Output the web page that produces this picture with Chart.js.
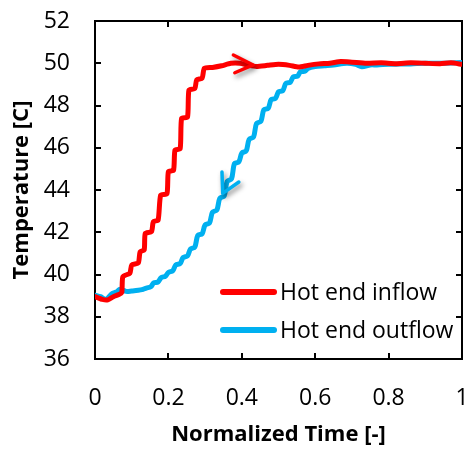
<!DOCTYPE html>
<html>
<head>
<meta charset="utf-8">
<script src="https://cdn.jsdelivr.net/npm/chart.js@4"></script>
<style>
  html, body { margin: 0; padding: 0; background: #fff; }
  #wrap { width: 470px; height: 450px; }
</style>
</head>
<body>
<div id="wrap"><canvas id="chart"></canvas></div>
<script>
// ── Data ────────────────────────────────────────────────────────────────────
const xTickLabels = ['0', '0.2', '0.4', '0.6', '0.8', '1'];
const yTickLabels = ['36', '38', '40', '42', '44', '46', '48', '50', '52'];
const seriesNames = ['Hot end inflow', 'Hot end outflow'];

const inflowTime = [
  0.000, 0.020, 0.035, 0.050, 0.065, 0.073, 0.076, 0.095, 0.100, 0.118,
  0.123, 0.134, 0.137, 0.154, 0.159, 0.172, 0.179, 0.196, 0.200, 0.214,
  0.218, 0.232, 0.236, 0.252, 0.256, 0.272, 0.277, 0.292, 0.298, 0.320,
  0.345, 0.370, 0.395, 0.420, 0.440, 0.470, 0.500, 0.530, 0.555, 0.580,
  0.610, 0.640, 0.670, 0.700, 0.740, 0.780, 0.820, 0.860, 0.900, 0.940,
  0.970, 1.000,
];
const inflowTemp = [
  38.95, 38.82, 38.80, 38.95, 39.05, 39.15, 39.90, 40.06, 40.45, 40.55,
  41.08, 41.16, 41.95, 42.03, 42.50, 42.58, 43.76, 43.82, 44.87, 44.93,
  45.89, 45.95, 47.39, 47.45, 48.73, 48.80, 49.21, 49.30, 49.76, 49.80,
  49.88, 50.00, 50.00, 49.90, 49.85, 49.90, 49.95, 49.90, 49.82, 49.90,
  49.97, 50.00, 50.08, 50.05, 50.00, 50.02, 49.98, 50.02, 50.00, 49.98,
  50.02, 49.95,
];

const outflowTime = [
  0.000, 0.015, 0.030, 0.045, 0.060, 0.068, 0.085, 0.100, 0.118, 0.128,
  0.140, 0.152, 0.160, 0.172, 0.180, 0.192, 0.200, 0.212, 0.220, 0.232,
  0.240, 0.252, 0.260, 0.272, 0.280, 0.292, 0.300, 0.312, 0.320, 0.332,
  0.340, 0.352, 0.360, 0.372, 0.380, 0.392, 0.400, 0.412, 0.420, 0.432,
  0.440, 0.452, 0.460, 0.472, 0.480, 0.492, 0.500, 0.512, 0.520, 0.532,
  0.540, 0.552, 0.560, 0.572, 0.580, 0.600, 0.625, 0.650, 0.686, 0.710,
  0.727, 0.750, 0.768, 0.800, 0.830, 0.860, 0.900, 0.950, 1.000,
];
const outflowTemp = [
  39.02, 38.95, 38.82, 39.08, 39.19, 39.30, 39.20, 39.22, 39.25, 39.28,
  39.36, 39.42, 39.60, 39.65, 39.85, 39.92, 40.10, 40.18, 40.45, 40.52,
  40.80, 40.88, 41.20, 41.30, 41.85, 41.93, 42.35, 42.44, 42.95, 43.05,
  43.60, 43.72, 44.40, 44.53, 45.25, 45.33, 45.75, 45.85, 46.40, 46.51,
  47.15, 47.25, 47.80, 47.87, 48.28, 48.34, 48.65, 48.71, 49.05, 49.10,
  49.35, 49.39, 49.60, 49.62, 49.75, 49.84, 49.88, 49.92, 50.00, 49.95,
  49.84, 49.92, 49.92, 49.95, 49.96, 49.97, 50.00, 50.00, 50.03,
];

// direction arrows, in data units
const inflowArrow  = { tip: [0.431, 49.92], wings: [[0.377, 50.39], [0.381, 49.55]] };
const outflowArrow = { tip: [0.348, 43.84], wings: [[0.346, 44.85], [0.392, 44.38]] };

// ── Style ───────────────────────────────────────────────────────────────────
const RED  = '#ff0000';
const BLUE = '#00b0f0';
const FONT = "'Open Sans', 'Liberation Sans', sans-serif";

const toPoints = (xs, ys) => xs.map((x, i) => ({ x, y: ys[i] }));

// ── Plugins ─────────────────────────────────────────────────────────────────
const framePlugin = {
  id: 'frame',
  beforeDatasetsDraw(chart) {
    const { ctx, chartArea: a, scales: { x, y } } = chart;
    const len = 6;
    ctx.save();
    ctx.strokeStyle = '#000';
    ctx.lineWidth = 2;
    ctx.strokeRect(a.left, a.top, a.right - a.left, a.bottom - a.top);
    ctx.beginPath();
    x.ticks.forEach(t => {
      const px = Math.round(x.getPixelForValue(t.value));
      ctx.moveTo(px, a.bottom); ctx.lineTo(px, a.bottom - len);
      ctx.moveTo(px, a.top);    ctx.lineTo(px, a.top + len);
    });
    y.ticks.forEach(t => {
      const py = Math.round(y.getPixelForValue(t.value));
      ctx.moveTo(a.left, py);  ctx.lineTo(a.left + len, py);
      ctx.moveTo(a.right, py); ctx.lineTo(a.right - len, py);
    });
    ctx.stroke();
    ctx.restore();
  },
};

function drawArrow(ctx, x, y, arrow, color) {
  const P = p => [x.getPixelForValue(p[0]), y.getPixelForValue(p[1])];
  const tip = P(arrow.tip);
  const w1 = P(arrow.wings[0]), w2 = P(arrow.wings[1]);
  ctx.save();
  ctx.strokeStyle = color;
  ctx.lineWidth = 3.5;
  ctx.lineCap = 'round';
  ctx.lineJoin = 'round';
  ctx.shadowColor = 'rgba(0,0,0,0.45)';
  ctx.shadowBlur = 5;
  ctx.shadowOffsetX = 2;
  ctx.shadowOffsetY = 3;
  ctx.beginPath();
  ctx.moveTo(w1[0], w1[1]); ctx.lineTo(tip[0], tip[1]); ctx.lineTo(w2[0], w2[1]);
  ctx.stroke();
  ctx.restore();
}

const annotPlugin = {
  id: 'annot',
  afterDatasetsDraw(chart) {
    const { ctx, chartArea: a, scales: { x, y } } = chart;
    drawArrow(ctx, x, y, inflowArrow, RED);
    drawArrow(ctx, x, y, outflowArrow, BLUE);

    // legend, bottom right inside the plot
    const rows = [[seriesNames[0], RED, a.bottom - 67], [seriesNames[1], BLUE, a.bottom - 29]];
    ctx.save();
    ctx.font = `23px ${FONT}`;
    ctx.textBaseline = 'middle';
    ctx.fillStyle = '#000';
    rows.forEach(([label, color, py]) => {
      ctx.strokeStyle = color;
      ctx.lineWidth = 6;
      ctx.lineCap = 'round';
      ctx.beginPath();
      ctx.moveTo(a.right - 239, py);
      ctx.lineTo(a.right - 188, py);
      ctx.stroke();
      ctx.fillText(label, a.right - 182, py + 1);
    });
    ctx.restore();
  },
};

// ── Chart ───────────────────────────────────────────────────────────────────
function lineDataset(label, data, color, tension) {
  return {
    label,
    data,
    borderColor: color,
    backgroundColor: color,
    borderWidth: 5,
    pointRadius: 0,
    tension,
    borderJoinStyle: 'round',
    borderCapStyle: 'round',
  };
}

new Chart(document.getElementById('chart'), {
  type: 'line',
  data: {
    datasets: [
      lineDataset(seriesNames[0], toPoints(inflowTime, inflowTemp), RED, 0.2),
      lineDataset(seriesNames[1], toPoints(outflowTime, outflowTemp), BLUE, 0.3),
    ],
  },
  options: {
    responsive: true,
    maintainAspectRatio: false,
    animation: false,
    layout: { padding: { top: 21, right: 8, left: 0, bottom: 0 } },
    plugins: { legend: { display: false }, tooltip: { enabled: false } },
    scales: {
      x: {
        type: 'linear',
        min: 0, max: 1,
        afterFit: s => { s.height = 91; s.paddingLeft = 0; s.paddingRight = 0; },
        grid: { display: false, drawTicks: false },
        border: { display: false },
        ticks: {
          stepSize: 0.2,
          padding: 26,
          color: '#000',
          font: { family: FONT, size: 23 },
          maxRotation: 0,
          callback: (v, i) => xTickLabels[i],
        },
        title: {
          display: true,
          text: 'Normalized Time [-]',
          color: '#000',
          font: { family: FONT, size: 22, weight: 'bold' },
          padding: { top: 0, bottom: 2 },
        },
      },
      y: {
        min: 36, max: 52,
        afterFit: s => { s.width = 95; s.paddingTop = 0; s.paddingBottom = 0; },
        grid: { display: false, drawTicks: false },
        border: { display: false },
        ticks: {
          stepSize: 2,
          padding: 25,
          color: '#000',
          font: { family: FONT, size: 23 },
          callback: (v, i) => yTickLabels[i],
        },
        title: {
          display: true,
          text: 'Temperature [C]',
          color: '#000',
          font: { family: FONT, size: 22, weight: 'bold' },
          padding: { top: 9, bottom: 0 },
        },
      },
    },
  },
  plugins: [framePlugin, annotPlugin],
});
</script>
</body>
</html>
